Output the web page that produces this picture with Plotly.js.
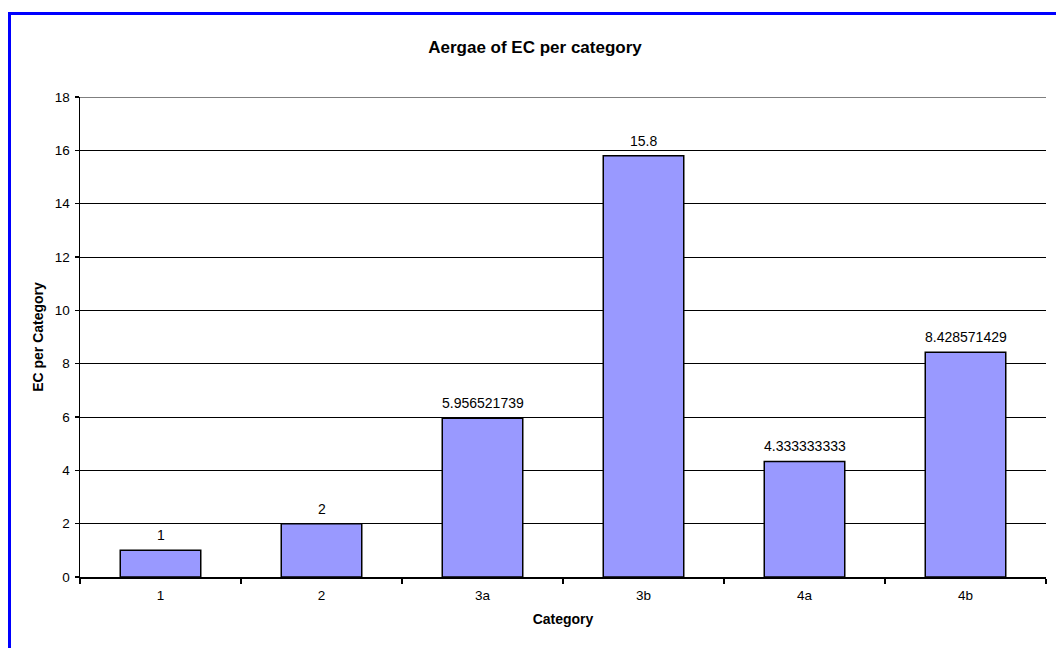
<!DOCTYPE html>
<html>
<head>
<meta charset="utf-8">
<script src="https://cdn.plot.ly/plotly-3.0.1.min.js"></script>
<style>
  html, body { margin: 0; padding: 0; background: #fff; }
  #wrap { position: relative; width: 1056px; height: 648px; overflow: hidden; }
  #chart { position: absolute; left: 0; top: 0; width: 1056px; height: 648px; }
  #frame { position: absolute; left: 8px; top: 12px; width: 1100px; height: 700px;
           border-left: 3px solid #0000FF; border-top: 3px solid #0000FF; pointer-events: none; }
</style>
</head>
<body>
<div id="wrap">
  <div id="chart"></div>
  <div id="frame"></div>
</div>
<script>
const categories = ["1", "2", "3a", "3b", "4a", "4b"];
const averages = [1, 2, 5.956521739, 15.8, 4.333333333, 8.428571429];
const labels = ["1", "2", "5.956521739", "15.8", "4.333333333", "8.428571429"];
const yTicks = [0, 2, 4, 6, 8, 10, 12, 14, 16, 18];
const yMax = 18;

const font = "Liberation Sans, Arial, sans-serif";

const trace = {
  type: "bar",
  x: categories,
  y: averages,
  marker: { color: "#9999FF", line: { color: "#000", width: 1.5 } },
  hoverinfo: "x+y"
};

// category axis positions are indices 0..n-1
const annotations = categories.map((c, i) => ({
  x: i, y: averages[i], xref: "x", yref: "y",
  text: labels[i], showarrow: false,
  xanchor: "center", yanchor: "bottom", yshift: 5,
  font: { family: font, size: 14, color: "#000" }
}));

const layout = {
  width: 1056,
  height: 648,
  margin: { l: 80, r: 10, t: 97, b: 71 },
  paper_bgcolor: "#fff",
  plot_bgcolor: "#fff",
  showlegend: false,
  bargap: 0.5,
  annotations: annotations,
  shapes: [{
    type: "line", xref: "paper", yref: "y", x0: 0, x1: 1, y0: yMax, y1: yMax,
    line: { color: "#000", width: 1 }, layer: "below"
  }],
  title: {
    text: "<b>Aergae of EC per category</b>",
    font: { family: font, size: 17, color: "#000" },
    x: 535 / 1056, xref: "container", xanchor: "center",
    y: 1 - 47 / 648, yref: "container", yanchor: "middle"
  },
  xaxis: {
    type: "category",
    showline: true, linecolor: "#000", linewidth: 1.5,
    ticks: "outside", tickson: "boundaries", ticklen: 5, tickcolor: "#000", tickwidth: 1.5,
    ticklabelstandoff: 5,
    tickfont: { family: font, size: 13.5, color: "#000" },
    showgrid: false, zeroline: false,
    title: { text: "<b>Category</b>", font: { family: font, size: 14, color: "#000" }, standoff: 12 }
  },
  yaxis: {
    range: [0, yMax],
    tickvals: yTicks,
    ticktext: yTicks.map(String),
    showline: true, linecolor: "#000", linewidth: 1.5,
    ticks: "outside", ticklen: 4, tickcolor: "#000", tickwidth: 1.5,
    ticklabelstandoff: 2,
    tickfont: { family: font, size: 13.5, color: "#000" },
    showgrid: true, gridcolor: "#000", gridwidth: 1,
    zeroline: false,
    title: { text: "<b>EC per Category</b>", font: { family: font, size: 14, color: "#000" }, standoff: 8 }
  }
};

Plotly.newPlot("chart", [trace], layout, { displayModeBar: false, staticPlot: true });
</script>
</body>
</html>
